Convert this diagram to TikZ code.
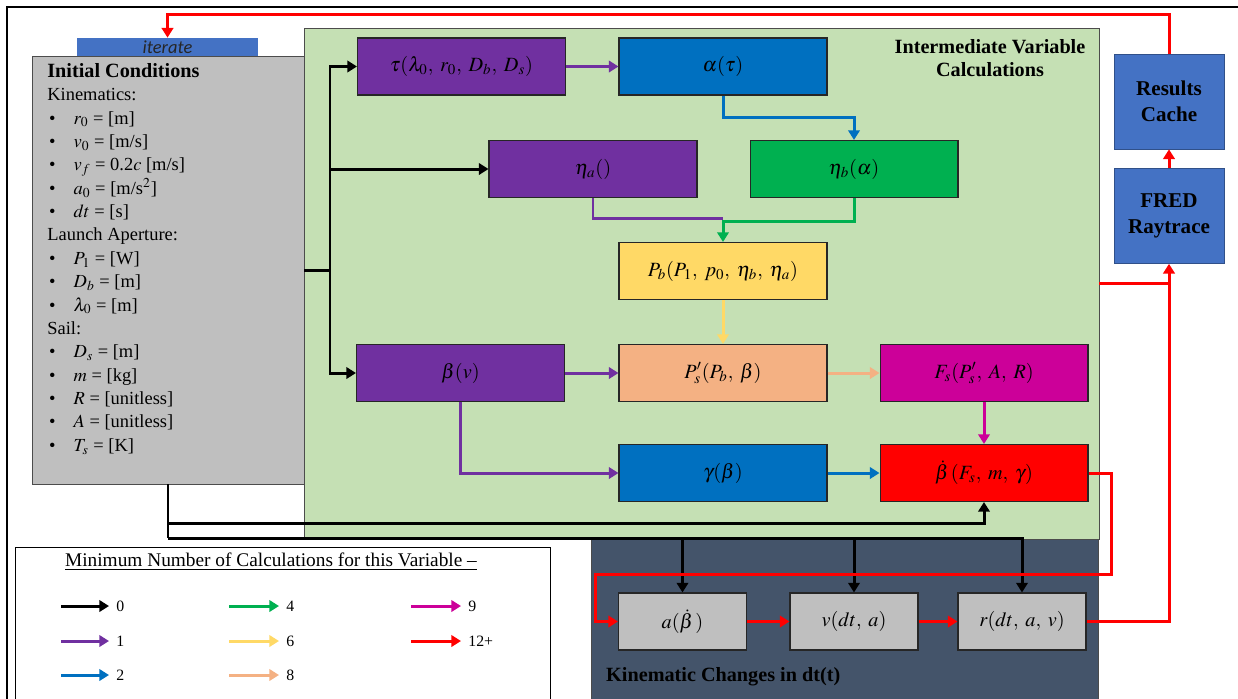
\documentclass[tikz,border=0pt]{standalone}
\usepackage{mathptmx}
\usepackage[no-math]{fontspec}
\setmainfont{Liberation Serif}
\newfontfamily\calibri{Carlito}
\usetikzlibrary{arrows.meta,calc}

\definecolor{ivcgreen}{HTML}{C5E0B4}
\definecolor{icgray}{HTML}{BFBFBF}
\definecolor{cpurple}{HTML}{7030A0}
\definecolor{cblue}{HTML}{0070C0}
\definecolor{cgreen}{HTML}{00B050}
\definecolor{cyellow}{HTML}{FFD966}
\definecolor{cpeach}{HTML}{F4B183}
\definecolor{cmagenta}{HTML}{CC0099}
\definecolor{cred}{HTML}{FF0000}
\definecolor{kinslate}{HTML}{44546A}
\definecolor{cacheblue}{HTML}{4472C4}

\newcommand{\icitem}[1]{\makebox[15pt][l]{\hspace{1pt}\textbullet}#1}

\begin{document}
\begin{tikzpicture}[x=0.02cm, y=-0.02cm,
    varbox/.style={draw=black!85, line width=0.6pt, minimum width=4.16cm, minimum height=1.14cm, inner sep=0pt, font=\fontsize{11.5}{13}\selectfont},
    kinbox/.style={varbox, fill=icgray, minimum width=2.56cm},
    sidebox/.style={draw=cacheblue!70!black, line width=0.4pt, fill=cacheblue, minimum width=2.2cm, minimum height=1.9cm, inner sep=0pt, align=center, font=\bfseries\fontsize{12}{14.5}\selectfont},
    tipped/.style={line width=1.7pt, -{Triangle[width=6.5pt,length=5.5pt]}},
    plain/.style={line width=1.7pt},
    leglabel/.style={right, text=black, font=\small}]

    \useasboundingbox (0,0) rectangle (1238,698);
    \clip (0,0) rectangle (1238,698);

    % Frame
    \draw[line width=1.2pt] (7,7) rectangle (1250,710);

    % Panels
    \node[draw=black!70, fill=ivcgreen, minimum width=15.9cm, minimum height=10.22cm, inner sep=0pt] (ivc) at (701.5,283.5) {};
    \node[draw=black!70, fill=kinslate, minimum width=10.14cm, minimum height=3.6cm, inner sep=0pt, anchor=north west] (kin) at (591,539) {};
    \node[align=center, font=\bfseries\fontsize{11.5}{13.5}\selectfont] (ivctitle) at (990,58) {Intermediate Variable\\Calculations};
    \node[anchor=west, font=\bfseries\fontsize{11.5}{13.5}\selectfont] (kintitle) at (600,677) {Kinematic Changes in dt(t)};

    % Initial conditions
    \node[draw=black!70, fill=icgray, minimum width=5.44cm, minimum height=8.56cm, inner sep=0pt] (ic) at (168,270) {};
    \node[fill=cacheblue, minimum width=3.62cm, minimum height=0.36cm, inner sep=0pt, font=\calibri\itshape\fontsize{10.5}{12}\selectfont, text=black!85] (iter) at (167.5,47) {iterate};
    \node[anchor=north west, inner sep=0pt, align=left, font=\fontsize{10.5}{13.3}\selectfont] (ictext) at (47,63) {%
        {\bfseries\fontsize{11.5}{13.3}\selectfont Initial Conditions}\\
        Kinematics:\\
        \icitem{$r_0$ = [m]}\\
        \icitem{$v_0$ = [m/s]}\\
        \icitem{$v_f$ = 0.2$c$ [m/s]}\\
        \icitem{$a_0$ = [m/s$^2$]}\\
        \icitem{$dt$ = [s]}\\
        Launch Aperture:\\
        \icitem{$P_1$ = [W]}\\
        \icitem{$D_b$ = [m]}\\
        \icitem{$\lambda_0$ = [m]}\\
        Sail:\\
        \icitem{$D_s$ = [m]}\\
        \icitem{$m$ = [kg]}\\
        \icitem{$R$ = [unitless]}\\
        \icitem{$A$ = [unitless]}\\
        \icitem{$T_s$ = [K]}};

    % Intermediate variables
    \node[varbox, fill=cpurple] (tau) at (461.5,66.5) {$\tau(\lambda_0,\; r_0,\; D_b,\; D_s)$};
    \node[varbox, fill=cblue] (alpha) at (723,66.5) {$\alpha(\tau)$};
    \node[varbox, fill=cpurple] (etaa) at (593,169) {$\eta_a()$};
    \node[varbox, fill=cgreen] (etab) at (854,169) {$\eta_b(\alpha)$};
    \node[varbox, fill=cyellow] (pb) at (723,271) {$P_b(P_1,\; p_0,\; \eta_b,\; \eta_a)$};
    \node[varbox, fill=cpurple] (beta) at (460.5,373) {$\beta(v)$};
    \node[varbox, fill=cpeach] (ps) at (723,373) {$P'_s(P_b,\; \beta)$};
    \node[varbox, fill=cmagenta] (fs) at (984,373) {$F_s(P'_s,\; A,\; R)$};
    \node[varbox, fill=cblue] (gamma) at (723,473) {$\gamma(\beta)$};
    \node[varbox, fill=cred] (bdot) at (984,473) {$\dot{\beta}\,(F_s,\; m,\; \gamma)$};

    % Kinematic changes
    \node[kinbox] (acc) at (682.5,621.5) {$a(\dot{\beta}\,)$};
    \node[kinbox] (vel) at (854,621.5) {$v(dt,\; a)$};
    \node[kinbox] (pos) at (1022,621.5) {$r(dt,\; a,\; v)$};

    % FRED and cache
    \node[sidebox] (cache) at (1169,101.5) {Results\\Cache};
    \node[sidebox] (fred) at (1169,216) {FRED\\Raytrace};

    % Black: initial conditions
    \coordinate (fork) at (330,270);
    \coordinate (tap) at (168,523);
    \coordinate (bus) at (168,538);
    \draw[plain] (ic.east) -- (fork);
    \draw[tipped] (fork) |- (tau.west);
    \draw[tipped] (fork) |- (etaa.west);
    \draw[tipped] (fork) |- (beta.west);
    \draw[plain] (ic.south) -- (bus);
    \draw[tipped] (tap) -| (bdot.south);
    \draw[tipped] (bus) -| (pos.north);
    \draw[tipped] (bus -| acc.north) -- (acc.north);
    \draw[tipped] (bus -| vel.north) -- (vel.north);

    % Coloured links
    \draw[tipped, cpurple] (tau) -- (alpha);
    \draw[tipped, cblue] (alpha.south) -- ++(0,22) -| (etab.north);
    \draw[plain, cpurple] (etaa.south) |- ($(pb.north)+(0,-23)$);
    \draw[tipped, cgreen] (etab.south) -- ++(0,23) -| (pb.north);
    \draw[tipped, cyellow] (pb) -- (ps);
    \draw[tipped, cpurple] (beta) -- (ps);
    \draw[tipped, cpurple] (beta.south) |- (gamma.west);
    \draw[tipped, cpeach] (ps) -- (fs);
    \draw[tipped, cmagenta] (fs) -- (bdot);
    \draw[tipped, cblue] (gamma) -- (bdot);

    % Red: iteration loop
    \draw[tipped, cred] (bdot.east) -| (1111,574) -| ($(acc.west)+(-22,0)$) -- (acc.west);
    \draw[tipped, cred] (acc) -- (vel);
    \draw[tipped, cred] (vel) -- (pos);
    \draw[tipped, cred] (pos.east) -| (fred.south);
    \draw[plain, cred] (ivc.east) -- (ivc.east -| fred.south);
    \draw[tipped, cred] (fred) -- (cache);
    \draw[tipped, cred] (cache.north) -- ++(0,-39) -| (iter.north);

    % Legend
    \node[draw, line width=0.6pt, minimum width=10.7cm, minimum height=3.4cm, inner sep=0pt, anchor=north west] (legend) at (15,547) {};
    \node[font=\fontsize{11}{13}\selectfont] (legtitle) at (271,562) {\underline{Minimum Number of Calculations for this Variable --}};
    \draw[tipped, black] (61,606) -- (109,606) node[leglabel] (l0) {0};
    \draw[tipped, cpurple] (61,641) -- (109,641) node[leglabel] (l1) {1};
    \draw[tipped, cblue] (61,675) -- (109,675) node[leglabel] (l2) {2};
    \draw[tipped, cgreen] (229,606) -- (279,606) node[leglabel] (l4) {4};
    \draw[tipped, cyellow] (229,641) -- (279,641) node[leglabel] (l6) {6};
    \draw[tipped, cpeach] (229,675) -- (279,675) node[leglabel] (l8) {8};
    \draw[tipped, cmagenta] (411,606) -- (461,606) node[leglabel] (l9) {9};
    \draw[tipped, cred] (411,641) -- (461,641) node[leglabel] (l12) {12+};
\end{tikzpicture}
\end{document}
